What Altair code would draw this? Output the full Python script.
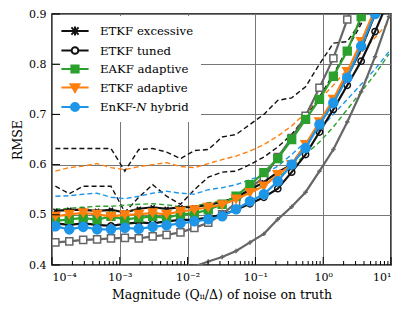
import altair as alt
import pandas as pd

# ---------------- data ----------------
X_EXP = [-3.95, -3.745, -3.54, -3.335, -3.13, -2.925, -2.72, -2.515, -2.31, -2.105,
         -1.90, -1.695, -1.49, -1.285, -1.08, -0.875, -0.67, -0.465, -0.26, -0.055,
         0.15, 0.355, 0.56, 0.765, 0.97]

ETKF_EXCESSIVE = [0.508, 0.51, 0.51, 0.508, 0.51, 0.505, 0.512, 0.515, 0.512, 0.515,
                  0.515, 0.52, 0.525, 0.535, 0.55, 0.565, 0.585, 0.60, 0.64, 0.68,
                  0.725, 0.775, 0.83, 0.90, 0.97]
ETKF_TUNED = [0.483, 0.48, 0.483, 0.48, 0.478, 0.482, 0.485, 0.483, 0.487, 0.49,
              0.49, 0.495, 0.50, 0.51, 0.522, 0.535, 0.552, 0.585, 0.62, 0.665,
              0.71, 0.758, 0.806, 0.865, 0.93]
EAKF_ADAPTIVE = [0.488, 0.491, 0.494, 0.49, 0.497, 0.491, 0.494, 0.497, 0.494, 0.501,
                 0.503, 0.51, 0.521, 0.537, 0.56, 0.584, 0.612, 0.65, 0.69, 0.73,
                 0.776, 0.826, 0.895, 0.97, 1.05]
ETKF_ADAPTIVE = [0.497, 0.501, 0.504, 0.501, 0.497, 0.50, 0.501, 0.504, 0.501, 0.507,
                 0.51, 0.515, 0.52, 0.531, 0.544, 0.557, 0.58, 0.60, 0.64, 0.685,
                 0.73, 0.785, 0.845, 0.91, 0.98]
ENKFN_HYBRID = [0.477, 0.471, 0.476, 0.471, 0.471, 0.474, 0.472, 0.476, 0.479, 0.483,
                0.487, 0.491, 0.497, 0.511, 0.527, 0.541, 0.567, 0.60, 0.633, 0.68,
                0.723, 0.773, 0.836, 0.90, 0.97]
GRAY_SQUARES = [0.445, 0.447, 0.45, 0.451, 0.453, 0.454, 0.453, 0.457, 0.46, 0.465,
                0.474, 0.484, 0.501, 0.524, 0.554, 0.574, 0.615, 0.653, 0.697, 0.753,
                0.812, 0.889, 0.97, None, None]
GRAY_PLUS = [None, None, None, None, None, None, None, None, None, 0.385,
             0.397, 0.407, 0.416, 0.428, 0.445, 0.462, 0.491, 0.516, 0.545, 0.587,
             0.63, 0.685, 0.745, 0.815, 0.895]

DASH_BLACK_A = [0.632, 0.632, 0.632, 0.632, 0.632, 0.587, 0.63, 0.632, 0.625, 0.612,
                0.628, 0.63, 0.655, 0.66, 0.68, 0.70, 0.728, 0.733, 0.755, 0.80,
                0.842, 0.845, 0.885, 0.93, 0.98]
DASH_BLACK_B = [0.557, 0.542, 0.557, 0.557, 0.557, 0.505, 0.535, 0.56, 0.537, 0.521,
                0.55, 0.575, 0.585, 0.587, 0.60, 0.615, 0.635, 0.66, 0.695, 0.735,
                0.78, 0.83, 0.88, 0.94, 1.0]
DASH_ORANGE = [0.587, 0.594, 0.597, 0.602, 0.594, 0.59, 0.596, 0.60, 0.604, 0.596,
               0.594, 0.602, 0.61, 0.617, 0.627, 0.64, 0.657, 0.677, 0.703, 0.73,
               0.758, 0.79, 0.823, 0.853, 0.885]
DASH_BLUE = [0.537, 0.538, 0.541, 0.543, 0.535, 0.532, 0.537, 0.543, 0.547, 0.543,
             0.541, 0.55, 0.554, 0.56, 0.57, 0.58, 0.597, 0.62, 0.645, 0.67,
             0.70, 0.73, 0.76, 0.79, 0.825]
DASH_GREEN = [0.511, 0.513, 0.515, 0.517, 0.517, 0.519, 0.521, 0.522, 0.52, 0.516,
              0.517, 0.524, 0.527, 0.533, 0.545, 0.56, 0.575, 0.595, 0.62, 0.645,
              0.675, 0.71, 0.745, 0.78, 0.82]

LEGEND_NAMES = ["ETKF excessive", "ETKF tuned", "EAKF adaptive", "ETKF adaptive", "EnKF-\U0001D441 hybrid"]
X_TICKS = [1e-4, 1e-3, 1e-2, 1e-1, 1, 10]
Y_TICKS = [0.4, 0.5, 0.6, 0.7, 0.8, 0.9]

# ---------------- styling ----------------
BLACK, GREEN, ORANGE, BLUE, GRAY = "#111111", "#2ca02c", "#ff7f0e", "#1e96e8", "#666666"
FONT = "DejaVu Serif"
W, H = 339, 251

X_PATH = "M-1,-1L1,1M-1,1L1,-1"
PLUS_PATH = "M-1,0H1M0,-1V1"


def frame(vals):
    rows = [(10 ** e, v) for e, v in zip(X_EXP, vals) if v is not None]
    return pd.DataFrame(rows, columns=["x", "y"])


xscale = alt.Scale(type="log", domain=[1e-4, 10])
yscale = alt.Scale(domain=[0.4, 0.9], nice=False, zero=False)
label_expr = ("['10\u207b\u2074','10\u207b\u00b3','10\u207b\u00b2','10\u207b\u00b9','10\u2070','10\u00b9']"
              "[round(log(datum.value)/LN10)+4]")
xaxis = alt.Axis(values=X_TICKS, labelExpr=label_expr, grid=True, ticks=False, domain=False,
                 title="Magnitude (Q\u1d62\u1d62/\u0394) of noise on truth", labelPadding=6,
                 titlePadding=6, labelFont=FONT, titleFont=FONT)
yaxis = alt.Axis(values=Y_TICKS, format=".1f", grid=True, ticks=False, domain=False,
                 title="RMSE", labelPadding=6, titlePadding=4, labelFont=FONT, titleFont=FONT)


def enc(ch):
    return ch.encode(x=alt.X("x:Q", scale=xscale, axis=xaxis),
                     y=alt.Y("y:Q", scale=yscale, axis=yaxis))


layers = []
# dashed lines (no markers)
for vals, col in [(DASH_BLACK_A, BLACK), (DASH_BLACK_B, BLACK), (DASH_ORANGE, ORANGE),
                  (DASH_BLUE, BLUE), (DASH_GREEN, GREEN)]:
    layers.append(enc(alt.Chart(frame(vals)).mark_line(
        color=col, strokeWidth=1.4, strokeDash=[5, 3], clip=True)))

# solid lines with markers
solid = [
    (GRAY_SQUARES, GRAY, "square", 50, "white", GRAY),
    (GRAY_PLUS, GRAY, PLUS_PATH, 20, "none", GRAY),
    (ETKF_TUNED, BLACK, "circle", 40, "none", BLACK),
    (ETKF_EXCESSIVE, BLACK, X_PATH, 16, "none", BLACK),
    (EAKF_ADAPTIVE, GREEN, "square", 62, GREEN, GREEN),
    (ETKF_ADAPTIVE, ORANGE, "triangle-down", 80, ORANGE, ORANGE),
    (ENKFN_HYBRID, BLUE, "circle", 82, BLUE, BLUE),
]
for vals, col, shape, size, fill, stroke in solid:
    df = frame(vals)
    layers.append(enc(alt.Chart(df).mark_line(color=col, strokeWidth=2.2, clip=True)))
    layers.append(enc(alt.Chart(df).mark_point(shape=shape, size=size, fill=fill, stroke=stroke,
                                               strokeWidth=1.5, opacity=1, filled=False, clip=True)))

# inward tick marks
minor = pd.DataFrame({"x": [m * 10 ** p for p in range(-4, 1) for m in range(2, 10)]})
layers.append(alt.Chart(minor).mark_rule(color="black", strokeWidth=1).encode(
    x=alt.X("x:Q", scale=xscale, axis=xaxis), y=alt.value(H), y2=alt.value(H - 4)))
layers.append(alt.Chart(pd.DataFrame({"x": X_TICKS})).mark_rule(color="black", strokeWidth=1).encode(
    x=alt.X("x:Q", scale=xscale, axis=xaxis), y=alt.value(H), y2=alt.value(H - 8)))
layers.append(alt.Chart(pd.DataFrame({"y": Y_TICKS})).mark_rule(color="black", strokeWidth=1).encode(
    y=alt.Y("y:Q", scale=yscale, axis=yaxis), x=alt.value(0), x2=alt.value(8)))

# legend layer (points kept outside the view, only the legend shows)
LEG_PATHS = [
    "M-1.7,0H1.7M-0.45,-0.45L0.45,0.45M-0.45,0.45L0.45,-0.45M0,-0.55V0.55",
    "M-1.7,0H-0.42M0.42,0H1.7M0.42,0A0.42,0.42 0 1,1 -0.42,0A0.42,0.42 0 1,1 0.42,0",
    "M-1.7,0H1.7M-0.45,-0.45H0.45V0.45H-0.45Z",
    "M-1.7,0H1.7M-0.55,-0.4L0.55,-0.4L0,0.55Z",
    "M-1.7,0H1.7M0.5,0A0.5,0.5 0 1,1 -0.5,0A0.5,0.5 0 1,1 0.5,0Z",
]
LEG_STROKES = [BLACK, BLACK, GREEN, ORANGE, BLUE]
LEG_FILLS = [BLACK, "white", GREEN, ORANGE, BLUE]
leg_df = pd.DataFrame({"series": LEGEND_NAMES, "x": [1e-7] * 5, "y": [0.5] * 5})
legend = alt.Legend(title=None, orient="none", legendX=8, legendY=2, padding=6,
                    symbolSize=256, symbolStrokeWidth=2, symbolOpacity=1, labelOffset=16,
                    labelFont=FONT, labelFontSize=11.7, labelColor="black", rowPadding=1.5,
                    fillColor="white", strokeColor="white")
layers.append(alt.Chart(leg_df).mark_point(clip=True, strokeWidth=2).encode(
    x=alt.X("x:Q", scale=xscale, axis=xaxis),
    y=alt.Y("y:Q", scale=yscale, axis=yaxis),
    shape=alt.Shape("series:N", scale=alt.Scale(domain=LEGEND_NAMES, range=LEG_PATHS), legend=legend),
    stroke=alt.Stroke("series:N", scale=alt.Scale(domain=LEGEND_NAMES, range=LEG_STROKES), legend=legend),
    fill=alt.Fill("series:N", scale=alt.Scale(domain=LEGEND_NAMES, range=LEG_FILLS), legend=legend),
))

chart = alt.layer(*layers).properties(
    width=W, height=H,
    autosize=alt.AutoSizeParams(type="none"),
    padding={"left": 44, "top": 6, "right": 12, "bottom": 41},
).configure(font=FONT).configure_view(stroke="black", strokeWidth=1.5).configure_axis(
    labelFont=FONT, titleFont=FONT, labelFontSize=11, titleFontSize=12.5,
    labelColor="black", titleColor="black", titleFontWeight="normal",
    gridColor="#777777", gridWidth=1, gridOpacity=1,
).configure_legend(labelFont=FONT, labelFontSize=11.7, labelColor="black")

chart.save("out.html", embed_options={"renderer": "svg", "actions": False})
